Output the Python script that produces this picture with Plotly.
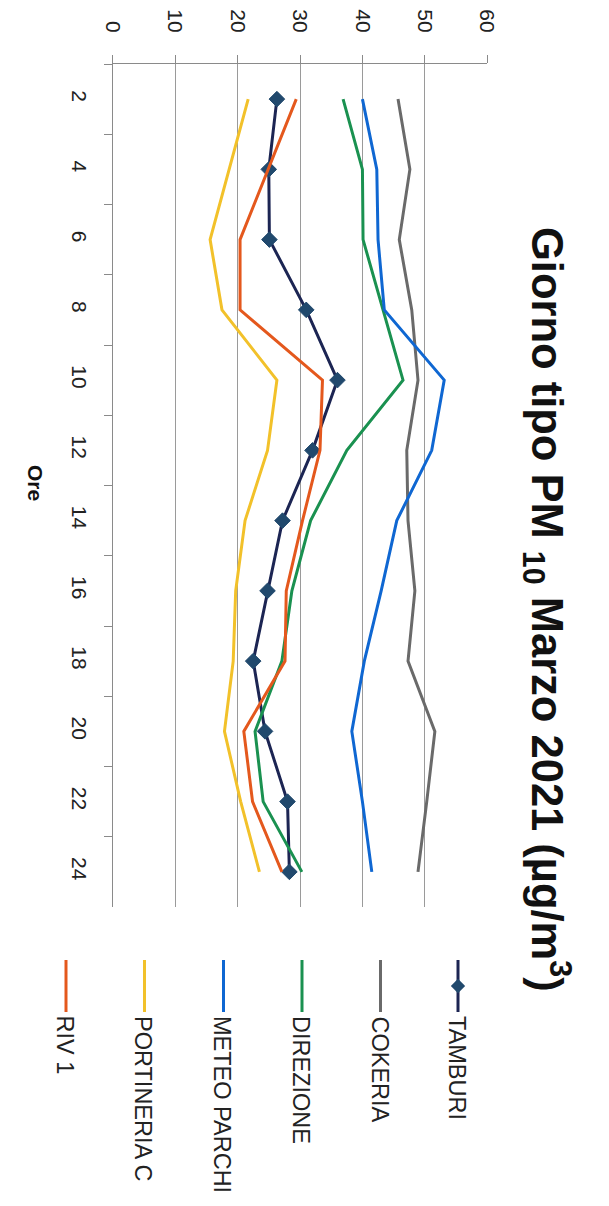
import plotly.graph_objects as go

# ---- data ----
hours = ["2", "4", "6", "8", "10", "12", "14", "16", "18", "20", "22", "24"]
series_names = ["TAMBURI", "COKERIA", "DIREZIONE", "METEO PARCHI", "PORTINERIA C", "RIV 1"]
tamburi = [26.3, 25.0, 25.1, 31.0, 36.0, 32.0, 27.2, 24.8, 22.5, 24.4, 28.0, 28.3]
cokeria = [45.7, 47.6, 45.9, 47.9, 48.9, 47.1, 47.3, 48.4, 47.3, 51.6, 50.3, 48.9]
direzione = [36.9, 40.0, 40.1, 43.3, 46.5, 37.5, 31.7, 28.7, 27.1, 22.8, 24.1, 30.3]
meteo_parchi = [40.0, 42.3, 42.5, 43.5, 53.1, 51.1, 45.5, 43.0, 40.3, 38.3, 40.0, 41.5]
portineria_c = [21.7, 18.6, 15.6, 17.5, 26.3, 24.8, 21.2, 19.7, 19.3, 17.9, 20.5, 23.5]
riv1 = [29.4, 24.9, 20.4, 20.4, 33.6, 33.2, 30.4, 27.8, 27.6, 21.0, 22.4, 27.1]
value_ticks = [0, 10, 20, 30, 40, 50, 60]

values = [tamburi, cokeria, direzione, meteo_parchi, portineria_c, riv1]
colors = ["#1c2553", "#6a6a6a", "#1a9150", "#0f67d2", "#f2c12a", "#e4581d"]
marker_color = "#21496d"

PAGE_W, PAGE_H = 609, 1206
OFF = 8  # default page body margin
W, H = PAGE_W - 2 * OFF, PAGE_H - 2 * OFF
FONT = "Liberation Sans, Arial, sans-serif"

def px(x):
    return (x - OFF) / W

def py(y):
    return 1 - (y - OFF) / H

fig = go.Figure()

for name, vals, col in zip(series_names, values, colors):
    is_tam = name == "TAMBURI"
    fig.add_trace(go.Scatter(
        x=vals, y=hours, name=name,
        mode="lines+markers" if is_tam else "lines",
        line=dict(color=col, width=3),
        marker=dict(symbol="diamond", size=12, color=marker_color,
                    line=dict(color=marker_color, width=1)),
        showlegend=False,
    ))

# ---- rotated legend drawn on an overlay pixel axis ----
leg_x = [458, 380.5, 302, 223.5, 144.5, 66]
for name, col, lx in zip(series_names, colors, leg_x):
    is_tam = name == "TAMBURI"
    fig.add_trace(go.Scatter(
        x=[lx, lx], y=[960, 1012], xaxis="x2", yaxis="y2",
        mode="lines", line=dict(color=col, width=3),
        showlegend=False, hoverinfo="skip",
    ))
    if is_tam:
        fig.add_trace(go.Scatter(
            x=[lx], y=[986], xaxis="x2", yaxis="y2",
            mode="markers",
            marker=dict(symbol="diamond", size=11, color=marker_color),
            showlegend=False, hoverinfo="skip",
        ))
    fig.add_annotation(
        x=px(lx - 1), y=py(1014), xref="paper", yref="paper",
        text=name, textangle=90, showarrow=False,
        xanchor="center", yanchor="top",
        font=dict(family=FONT, size=23.5, color="#222222"),
    )

# title
fig.add_annotation(
    x=px(548), y=py(609), xref="paper", yref="paper",
    text="<b>Giorno tipo PM <sub>10</sub> Marzo 2021 (µg/m<sup>3</sup>)</b>",
    textangle=90, showarrow=False, xanchor="center", yanchor="middle",
    font=dict(family=FONT, size=43.5, color="#111111"),
)

# category axis title
fig.add_annotation(
    x=px(36), y=py(483), xref="paper", yref="paper",
    text="<b>Ore</b>", textangle=90, showarrow=False,
    xanchor="center", yanchor="middle",
    font=dict(family=FONT, size=21, color="#111111"),
)

fig.update_layout(
    width=W, height=H,
    margin=dict(l=0, r=0, t=0, b=0),
    paper_bgcolor="white", plot_bgcolor="rgba(0,0,0,0)",
    template="none",
    showlegend=False,
    xaxis=dict(
        domain=[px(112.7), px(487.3)],
        range=[0, 60], tickvals=value_ticks, side="top",
        tickangle=90, ticks="outside", ticklen=8, tickcolor="#8a8a8a",
        showline=True, linecolor="#8a8a8a", linewidth=1,
        showgrid=True, gridcolor="#9a9a9a", gridwidth=1, zeroline=False,
        tickfont=dict(family=FONT, size=21, color="#222222"),
        ticklabelstandoff=15,
    ),
    yaxis=dict(
        domain=[py(907), py(64)],
        type="category", categoryorder="array", categoryarray=hours,
        range=[11.5, -0.5], tickson="boundaries",
        tickangle=90, ticks="outside", ticklen=8, tickcolor="#8a8a8a",
        showline=True, linecolor="#8a8a8a", linewidth=1,
        showgrid=False, zeroline=False,
        tickfont=dict(family=FONT, size=21, color="#222222"),
        ticklabelstandoff=14,
    ),
    xaxis2=dict(domain=[0, 1], range=[OFF, OFF + W], visible=False, fixedrange=True),
    yaxis2=dict(domain=[0, 1], range=[OFF + H, OFF], visible=False, fixedrange=True),
)

fig.write_html("out.html")
